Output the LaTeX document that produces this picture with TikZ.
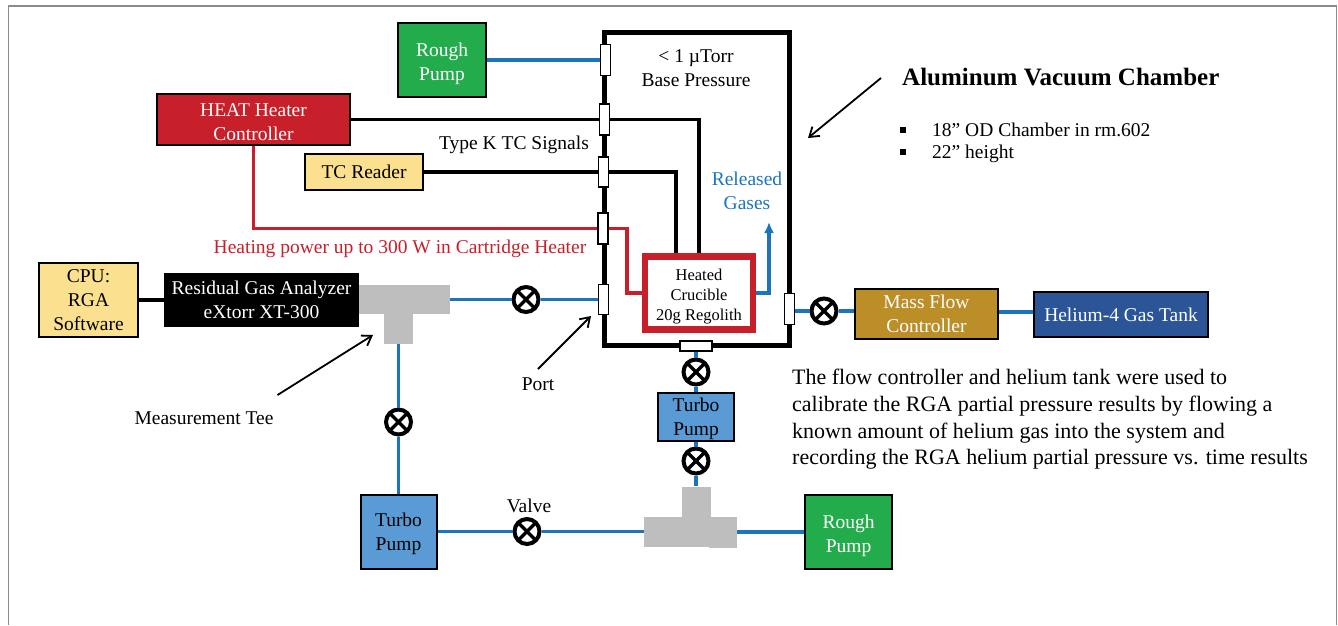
\documentclass[tikz,border=0pt]{standalone}
\usepackage{fontspec}
\usetikzlibrary{arrows.meta}
\setmainfont{Liberation Serif}
\definecolor{pipeblue}{HTML}{1B75BC}
\definecolor{heatred}{HTML}{C8202A}
\definecolor{pumpgreen}{HTML}{22AC4B}
\definecolor{turboblue}{HTML}{5B9BD5}
\definecolor{readeryellow}{HTML}{FBE08F}
\definecolor{flowgold}{HTML}{BB8E28}
\definecolor{tankblue}{HTML}{2C5597}
\definecolor{teegray}{HTML}{BEBEBE}
\definecolor{framegray}{HTML}{8C8C8C}
\newcommand{\toprule}[1]{\rule{0pt}{#1pt}}
\tikzset{
    unit/.style={shape=rectangle,draw=black,line width=2,inner sep=0,align=center,font=\fontsize{19.5}{24}\selectfont},
    label/.style={inner sep=0,align=center,font=\fontsize{19.5}{24}\selectfont},
    port/.style={shape=rectangle,draw=black,fill=white,line width=1.7,inner sep=0},
    valve/.style={shape=circle,draw=black,fill=white,line width=4,inner sep=0,minimum size=25,
        path picture={\draw[line width=3.5] (path picture bounding box.north west) -- (path picture bounding box.south east);
        \draw[line width=3.5] (path picture bounding box.north east) -- (path picture bounding box.south west);}},
    tee/.style={shape=rectangle,fill=teegray,inner sep=0},
    bluepipe/.style={line width=3.4,color=pipeblue},
    redwire/.style={line width=3.4,color=heatred},
    blackwire/.style={line width=3.4,color=black},
    pointer/.style={line width=1.8,color=black,-{Straight Barb[length=9pt,width=12pt]}},
    bullet/.style={shape=rectangle,fill=black,inner sep=0,minimum size=5.5},
}
\begin{document}
\begin{tikzpicture}[x=1pt,y=-1pt]
    \useasboundingbox (0,0) rectangle (1338,625);
    \draw[line width=1.6, color=framegray] (8.5,625) -- (8.5,6) -- (1336.5,6) -- (1336.5,625);

    \node[shape=rectangle,draw=black,line width=5,inner sep=0,minimum width=185,minimum height=313] (chamber) at (696.5,188.5) {};
    \node[port,minimum width=10,minimum height=31] (port1) at (605.5,60) {};
    \node[port,minimum width=10,minimum height=31] (port2) at (604.5,119.5) {};
    \node[port,minimum width=10,minimum height=30] (port3) at (603.5,172) {};
    \node[port,minimum width=10,minimum height=31] (port4) at (603,228.5) {};
    \node[port,minimum width=10,minimum height=30] (port5) at (603.5,299.5) {};
    \node[port,minimum width=10,minimum height=31] (port6) at (789.5,309) {};
    \node[port,minimum width=32,minimum height=10] (port7) at (696,346) {};

    \node[unit,fill=pumpgreen,text=white,minimum width=88,minimum height=74] (rough1) at (442,60) {\toprule{22}Rough\\Pump};
    \node[unit,fill=heatred,text=white,minimum width=193,minimum height=51] (heater) at (253.5,119.5) {\toprule{18}HEAT Heater\\Controller};
    \node[unit,fill=readeryellow,minimum width=118,minimum height=36] (reader) at (364,172) {TC Reader};
    \node[unit,fill=readeryellow,minimum width=99,minimum height=74] (cpu) at (88.5,300) {CPU:\\RGA\\Software};
    \node[unit,fill=black,text=white,minimum width=193,minimum height=52] (analyzer) at (261.5,299.5) {Residual Gas Analyzer\\eXtorr XT-300};
    \node[unit,fill=turboblue,minimum width=76,minimum height=48] (turbo1) at (696,416.5) {\toprule{19}Turbo\\Pump};
    \node[unit,fill=turboblue,minimum width=76,minimum height=74] (turbo2) at (398.5,531.5) {\toprule{19}Turbo\\Pump};
    \node[unit,fill=pumpgreen,text=white,minimum width=87,minimum height=74] (rough2) at (848.5,532) {\toprule{22}Rough\\Pump};
    \node[unit,fill=flowgold,text=white,minimum width=143,minimum height=50] (flowctrl) at (926.5,314) {Mass Flow\\Controller};
    \node[unit,fill=tankblue,text=white,minimum width=174,minimum height=45] (tank) at (1121,314.5) {Helium-4 Gas Tank};
    \node[shape=rectangle,draw=heatred,fill=white,line width=6.5,inner sep=0,align=center,minimum width=108,minimum height=73,font=\fontsize{16.5}{20}\selectfont] (crucible) at (699,293) {\toprule{19}Heated\\Crucible\\20g Regolith};

    \node[tee,minimum width=91,minimum height=29] (teebar1) at (404.5,299.5) {};
    \node[tee,minimum width=29,minimum height=30] (teestem1) at (398.5,329) {};
    \node[tee,minimum width=65,minimum height=30] (teebar2) at (676.5,531.5) {};
    \node[tee,minimum width=28,minimum height=31] (teeend2) at (723,532) {};
    \node[tee,minimum width=29,minimum height=31] (teestem2) at (696,502) {};

    \node[valve] (valve1) at (526,299.5) {};
    \node[valve] (valve2) at (398.5,422) {};
    \node[valve] (valve3) at (527,531.5) {};
    \node[valve] (valve4) at (696,372) {};
    \node[valve] (valve5) at (696,461) {};
    \node[valve] (valve6) at (824,311) {};

    \coordinate (gastip) at (769,222);
    \coordinate (redbend) at (627,228.5);
    \coordinate (flowline) at (1015,312);
    \coordinate (chamberfrom) at (881,78);
    \coordinate (chamberto) at (808,138);
    \coordinate (portfrom) at (538,369);
    \coordinate (portto) at (591,316);
    \coordinate (teefrom) at (277.5,395);
    \coordinate (teeto) at (373,335);

    \path[bluepipe] (rough1) edge (port1);
    \path[bluepipe] (teebar1) edge (valve1);
    \path[bluepipe] (valve1) edge (port5);
    \path[bluepipe] (teestem1) edge (valve2);
    \path[bluepipe] (valve2) edge (turbo2);
    \path[bluepipe] (turbo2) edge (valve3);
    \path[bluepipe] (valve3) edge (teebar2);
    \path[bluepipe] (teeend2) edge (rough2);
    \path[bluepipe] (port7) edge (valve4);
    \path[bluepipe] (valve4) edge (turbo1);
    \path[bluepipe] (turbo1) edge (valve5);
    \path[bluepipe] (valve5) edge (teestem2);
    \path[bluepipe] (port6.east |- valve6) edge (valve6);
    \path[bluepipe] (valve6) edge (valve6 -| flowctrl.west);
    \path[bluepipe] (flowline -| flowctrl.east) edge (flowline -| tank.west);
    \draw[bluepipe,-{Latex[length=11pt,width=10pt]}] (crucible) -| (gastip);

    \path[blackwire] (heater) edge (port2);
    \path[blackwire] (reader) edge (port3);
    \path[blackwire] (cpu) edge (cpu -| analyzer.west);
    \draw[blackwire] (port2) -| (crucible);
    \draw[blackwire] (port3) -| ([xshift=-23pt]crucible.north);

    \draw[redwire] (heater) |- (port4);
    \draw[redwire] (port4) -- (redbend) |- (crucible);

    \draw[pointer] (chamberfrom) -- (chamberto);
    \draw[pointer] (portfrom) -- (portto);
    \draw[pointer] (teefrom) -- (teeto);

    \node[label] (base) at (696,68.5) {< 1 µTorr\\Base Pressure};
    \node[label] (signals) at (514,145) {Type K TC Signals};
    \node[label,text=heatred] (power) at (400,249) {Heating power up to 300 W in Cartridge Heater};
    \node[label,text=pipeblue] (gases) at (747,190.5) {Released\\Gases};
    \node[label] (portname) at (538,384) {Port};
    \node[label] (teename) at (204,418) {Measurement Tee};
    \node[label] (valvename) at (529,506) {Valve};

    \node[inner sep=0,anchor=west,font=\fontsize{25}{30}\selectfont\bfseries] (title) at (902,77) {Aluminum Vacuum Chamber};
    \node[bullet] (bullet1) at (903,130) {};
    \node[bullet] (bullet2) at (903,152) {};
    \node[label,anchor=base west] (size) at (932,136) {18” OD Chamber in rm.602};
    \node[label,anchor=base west] (height) at (932,158.5) {22” height};
    \node[inner sep=0,anchor=north west,align=left,font=\fontsize{22}{26.7}\selectfont] (note) at (792,369) {The flow controller and helium tank were used to\\calibrate the RGA partial pressure results by flowing a\\known amount of helium gas into the system and\\recording the RGA helium partial pressure vs. time results};
\end{tikzpicture}
\end{document}
